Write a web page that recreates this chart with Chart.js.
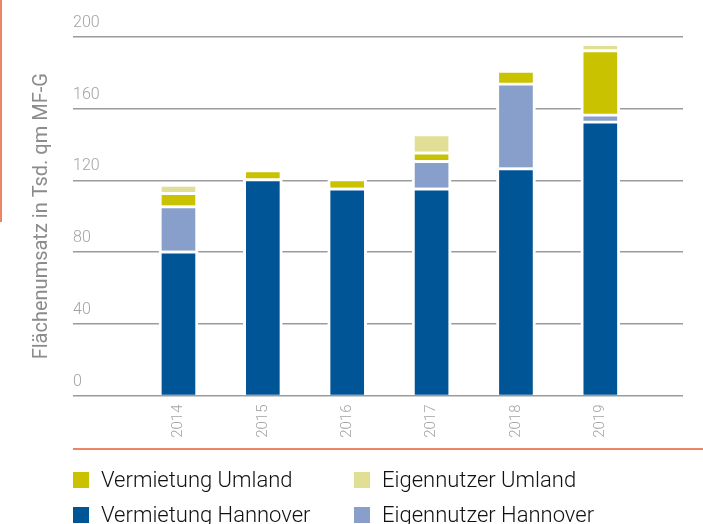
<!DOCTYPE html>
<html>
<head>
<meta charset="utf-8">
<script src="https://cdn.jsdelivr.net/npm/chart.js@4.4.0/dist/chart.umd.min.js"></script>
<style>
  body { margin: 0; background: #fff; }
  #wrap { position: relative; width: 703px; height: 524px; overflow: hidden; }
  #chart { position: absolute; left: 0; top: 0; }
  .side-line { position: absolute; left: 0; top: 0; width: 2px; height: 222px; background: #ef8366; }
  .base-line { position: absolute; left: 73px; top: 448px; width: 630px; height: 2px; background: #ef8366; }
  #legend { position: absolute; left: 73px; top: 462px; display: grid; grid-template-columns: 281px 281px; }
  .item { display: flex; align-items: center; height: 35px; font-family: Roboto, sans-serif; font-weight: 300;
          font-size: 22px; color: #111; white-space: nowrap; }
  .box { width: 16px; height: 16px; margin-right: 12px; flex: none; }
</style>
</head>
<body>
<div id="wrap">
  <canvas id="chart" width="703" height="524"></canvas>
  <div class="side-line"></div>
  <div class="base-line"></div>
  <div id="legend"></div>
</div>
<script>
// Flächenumsatz in Tsd. qm MF-G
const years = [2014, 2015, 2016, 2017, 2018, 2019];
const vermietungHannover = [80.7, 121, 115.9, 115.9, 127.1, 153.2];
const eigennutzerHannover = [25.2, 0, 0, 15.3, 47.3, 3.9];
const vermietungUmland = [7.4, 5.1, 5.1, 4.8, 7.1, 35.9];
const eigennutzerUmland = [4.7, 0, 0, 10.1, 0, 3.4];

const yTicks = [0, 40, 80, 120, 160, 200];

// stacking order bottom -> top
const series = [
    { label: 'Vermietung Hannover', data: vermietungHannover, color: '#005596' },
    { label: 'Eigennutzer Hannover', data: eigennutzerHannover, color: '#879fca' },
    { label: 'Vermietung Umland', data: vermietungUmland, color: '#c8c200' },
    { label: 'Eigennutzer Umland', data: eigennutzerUmland, color: '#e1df96' }
];
// legend order
const legendOrder = ['Vermietung Umland', 'Eigennutzer Umland', 'Vermietung Hannover', 'Eigennutzer Hannover'];

const ctx = document.getElementById('chart');
new Chart(ctx, {
    type: 'bar',
    data: {
        datasets: series.map((s) => ({
            label: s.label,
            data: years.map((yr, i) => ({ x: yr, y: s.data[i] })),
            backgroundColor: s.color,
            borderColor: '#ffffff',
            borderWidth: 3,
            borderSkipped: 'start',
            barThickness: 39
        }))
    },
    options: {
        responsive: false,
        animation: false,
        devicePixelRatio: 1,
        layout: { padding: { top: 37, right: 20, left: 0, bottom: 0 } },
        plugins: { legend: { display: false }, tooltip: { enabled: false } },
        scales: {
            x: {
                type: 'linear',
                stacked: true,
                offset: false,
                min: 2012.75,
                max: 2019.98,
                grid: { display: false, drawTicks: false, offset: false },
                border: { display: false },
                ticks: {
                    stepSize: 1,
                    autoSkip: false,
                    maxRotation: 90,
                    minRotation: 90,
                    padding: 9,
                    color: '#a3a3a3',
                    font: { family: 'Roboto', size: 15, weight: '300' },
                    callback: (v) => years.includes(v) ? String(v) : ''
                },
                afterFit: (s) => {
                    s.height = 128.5;
                    s.paddingLeft = 0;
                    s.paddingRight = 0;
                }
            },
            y: {
                stacked: true,
                min: yTicks[0],
                max: yTicks[yTicks.length - 1],
                grid: { color: '#9b9b9b', lineWidth: 1.5, drawTicks: false },
                border: { display: false },
                ticks: {
                    stepSize: 40,
                    mirror: true,
                    padding: 0,
                    labelOffset: -14,
                    color: '#a3a3a3',
                    font: { family: 'Roboto', size: 16, weight: '300' }
                },
                title: {
                    display: true,
                    text: 'Flächenumsatz in Tsd. qm MF-G',
                    color: '#8c8c8c',
                    font: { family: 'Roboto', size: 20, weight: '400' },
                    padding: { top: 30, bottom: 0 }
                },
                afterFit: (s) => { s.width = 73; }
            }
        }
    }
});

// html legend
const legendEl = document.getElementById('legend');
legendOrder.forEach((name) => {
    const s = series.find((d) => d.label === name);
    const item = document.createElement('div');
    item.className = 'item';
    item.innerHTML = '<span class="box" style="background:' + s.color + '"></span>' + s.label;
    legendEl.appendChild(item);
});
</script>
</body>
</html>
